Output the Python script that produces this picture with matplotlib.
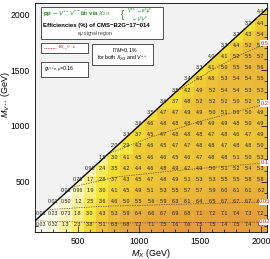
import numpy as np
import matplotlib
matplotlib.use("Agg")
import matplotlib.pyplot as plt
from matplotlib.colors import LinearSegmentedColormap
from matplotlib.patches import Polygon, Rectangle

plt.rcParams['font.family'] = ['Liberation Sans', 'DejaVu Sans']
plt.rcParams['mathtext.fontset'] = 'custom'
plt.rcParams['mathtext.rm'] = 'Liberation Sans'
plt.rcParams['mathtext.it'] = 'Liberation Sans:italic'
plt.rcParams['mathtext.bf'] = 'Liberation Sans:bold'

# grid of mass points (GeV)
mx = np.arange(200, 2001, 100)
mv = np.arange(100, 2001, 100)

# efficiencies (%) for each M_V row, starting at M_X = max(200, M_V)
eff_by_mv = [
    [0.03, 0.32, 1.3, 2.3, 3.8, 5.1, 6.3, 6.8, 7.2, 7.1, 7.5, 7.6, 7.6, 7.5, 7.5, 7.4, 7.5, 7.4, 7.4],  # 100
    [0.01, 0.23, 0.73, 1.8, 3.0, 4.3, 5.3, 5.9, 6.4, 6.6, 6.7, 6.9, 6.8, 7.1, 7.2, 7.1, 7.4, 7.3, 7.2],  # 200
    [0.01, 0.50, 1.2, 2.5, 3.6, 4.6, 5.0, 5.5, 5.6, 5.9, 6.3, 6.1, 6.4, 6.5, 6.7, 6.7, 6.7, 6.8],  # 300
    [0.01, 0.96, 1.9, 3.0, 4.1, 4.5, 4.9, 5.1, 5.3, 5.5, 5.7, 5.7, 5.9, 6.0, 6.1, 6.1, 6.2],  # 400
    [0.70, 1.7, 2.8, 3.7, 4.3, 4.5, 4.7, 4.8, 4.9, 5.1, 5.3, 5.3, 5.5, 5.5, 5.8, 5.8],  # 500
    [0.90, 2.4, 3.5, 4.2, 4.4, 4.6, 4.8, 4.9, 4.7, 4.9, 5.0, 5.1, 5.2, 5.4, 5.3],  # 600
    [1.5, 3.0, 4.1, 4.5, 4.6, 4.6, 4.5, 4.6, 4.7, 4.8, 4.8, 5.1, 5.0, 5.3],  # 700
    [2.0, 2.9, 4.3, 4.6, 4.5, 4.7, 4.7, 4.8, 4.8, 4.7, 4.8, 4.8, 5.0],  # 800
    [3.3, 3.7, 4.5, 4.7, 4.8, 4.8, 4.8, 4.7, 4.8, 4.6, 4.7, 4.9],  # 900
    [3.6, 4.6, 4.8, 4.8, 4.8, 4.9, 4.9, 4.9, 4.8, 5.0, 4.9],  # 1000
    [3.5, 4.7, 4.7, 4.9, 4.9, 5.0, 5.1, 5.0, 5.0, 4.9],  # 1100
    [3.6, 3.7, 4.8, 5.2, 5.2, 5.2, 5.0, 5.2, 5.0],  # 1200
    [3.5, 4.2, 4.9, 5.2, 5.4, 5.4, 5.3, 5.3],  # 1300
    [3.4, 4.3, 4.8, 5.3, 5.4, 5.4, 5.5],  # 1400
    [3.3, 4.1, 5.0, 5.5, 5.6, 5.6],  # 1500
    [4.0, 4.1, 5.2, 5.5, 5.7],  # 1600
    [3.3, 4.4, 5.2, 5.6],  # 1700
    [3.2, 4.3, 5.4],  # 1800
    [3.1, 4.4],  # 1900
    [4.4],  # 2000
]

# dashed contour lines (M_X, M_V) and their labels
contour_labels = ['0.5', '0.2', '0.1', '0.05', '0.02']
contour_mx = [
    [1300, 1600, 1800, 2050],
    [750, 1100, 1500, 2050],
    [450, 800, 1300, 2050],
    [250, 700, 1400, 2050],
    [150, 800, 1400, 2050],
]
contour_mv = [
    [1300, 1500, 1620, 1740],
    [750, 900, 1040, 1200],
    [450, 540, 600, 670],
    [250, 280, 300, 320],
    [150, 130, 135, 140],
]

Z = np.full((len(mv), len(mx)), np.nan)
for i, row in enumerate(eff_by_mv):
    start = len(mx) - len(row)
    Z[i, start:] = row

cmap = LinearSegmentedColormap.from_list('eff', [
    (0.0, '#fdfcf2'), (0.15, '#f9f2a0'), (0.4, '#f5e22e'),
    (0.6, '#ecc236'), (0.75, '#e8b23a'), (1.0, '#e3963a')])

fig = plt.figure(figsize=(2.7, 2.59), dpi=100)
ax = fig.add_axes([35 / 270, 27 / 259, 232 / 270, 229 / 259])
ax.set_facecolor('#f2f2f2')

xe = np.append(mx - 50, mx[-1] + 50)
ye = np.append(mv - 50, mv[-1] + 50)
ax.pcolormesh(xe, ye, np.ma.masked_invalid(Z), cmap=cmap, vmin=0, vmax=8, zorder=1)

# grey excluded triangle above M_V = M_X
ax.add_patch(Polygon([(150, 150), (150, 2100), (2100, 2100)], closed=True,
                     facecolor='#f2f2f2', edgecolor='none', zorder=2))
ax.plot([150, 2100], [150, 2100], color='black', lw=1.0, zorder=5)

for i in range(len(mv)):
    for j in range(len(mx)):
        v = Z[i, j]
        if np.isnan(v):
            continue
        s = f'{v:.2f}' if v < 1 else f'{v:.1f}'
        ax.text(mx[j], mv[i] + 20, s, fontsize=3.8, ha='center', va='center',
                color='#222222', zorder=6)

for lab, cx, cy in zip(contour_labels, contour_mx, contour_mv):
    ax.plot(cx, cy, ls=(0, (2, 1.5)), color='#6b4a2a', lw=0.5, zorder=3)
    ax.text(2032, cy[-1], lab, fontsize=4.2, color='#d42020', ha='center', va='center',
            zorder=7, bbox=dict(boxstyle='square,pad=0.1', fc='white', ec='none'))

ax.set_xlim(150, 2050)
ax.set_ylim(50, 2100)
ax.set_xticks([500, 1000, 1500, 2000])
ax.set_yticks([500, 1000, 1500, 2000])
ax.set_xticks(np.arange(200, 2050, 100), minor=True)
ax.set_yticks(np.arange(100, 2100, 100), minor=True)
ax.tick_params(which='both', direction='in', top=True, right=True, labelsize=6.2, width=0.5)
ax.tick_params(which='major', length=4)
ax.tick_params(which='minor', length=2)
for sp in ax.spines.values():
    sp.set_linewidth(0.6)
ax.set_xlabel(r'$M_X$ (GeV)', fontsize=6.5, labelpad=1)
ax.set_ylabel(r'$M_{V^{++}}$ (GeV)', fontsize=6.5, labelpad=1)
ax.yaxis.set_label_coords(-0.1, 0.6)

# info boxes
def box(x0, y0, x1, y1):
    ax.add_patch(Rectangle((x0, y0), x1 - x0, y1 - y0, transform=fig.transFigure,
                           facecolor='white', edgecolor='#333333', lw=0.6, zorder=8))

def fx(px):
    return px / 270

def fy(py):
    return 1 - py / 259

box(fx(41), fy(39), fx(163), fy(7))
fig.text(fx(43), fy(14), r'pp$\rightarrow V^{++}V^{--}$b$\bar{\rm b}$ via $X_{2/3}$',
         fontsize=4.3, color='#1a8a1a', fontweight='bold', va='center', zorder=9)
fig.text(fx(121), fy(14.5), '{', fontsize=7, color='#1a8a1a', va='center', zorder=9)
fig.text(fx(127), fy(15),
         r'$V^{\pm\pm}\rightarrow e^{\pm}\mu^{\pm}$' + '\n' + r'$\quad\rightarrow\mu^{\pm}\mu^{\pm}$',
         fontsize=3.3, color='#1a8a1a', va='center', linespacing=0.85, zorder=9)
fig.text(fx(43), fy(26), 'Efficiencies (%) of CMS\u2212B2G\u221217\u2212014',
         fontsize=4.3, fontweight='bold', va='center', zorder=9)
fig.text(fx(95), fy(33.5), r'e$\mu$ signal region', fontsize=3.5, ha='center',
         va='center', color='#333333', zorder=9)

box(fx(41), fy(53), fx(88), fy(43))
fig.lines.append(plt.Line2D([fx(44), fx(56)], [fy(48), fy(48)], transform=fig.transFigure,
                            color='#d42020', lw=0.6, ls=(0, (1, 1)), zorder=9))
fig.text(fx(58), fy(48), r'$\kappa_{X_{2/3}V^{++}b}$', fontsize=3.6, color='#d42020',
         va='center', zorder=9)

box(fx(41), fy(77), fx(88), fy(62))
fig.text(fx(44), fy(69.5), r'$g_{V^{++}e,\mu}$=0.16', fontsize=3.8, va='center', zorder=9)

box(fx(92), fy(65), fx(153), fy(44))
fig.text(fx(125), fy(50), r'$\Gamma/M$=0.1%', fontsize=3.8, ha='center', va='center', zorder=9)
fig.text(fx(122), fy(58), r'for both $X_{2/3}$ and $V^{++}$', fontsize=3.8, ha='center',
         va='center', zorder=9)

fig.savefig('out.png', dpi=100)
